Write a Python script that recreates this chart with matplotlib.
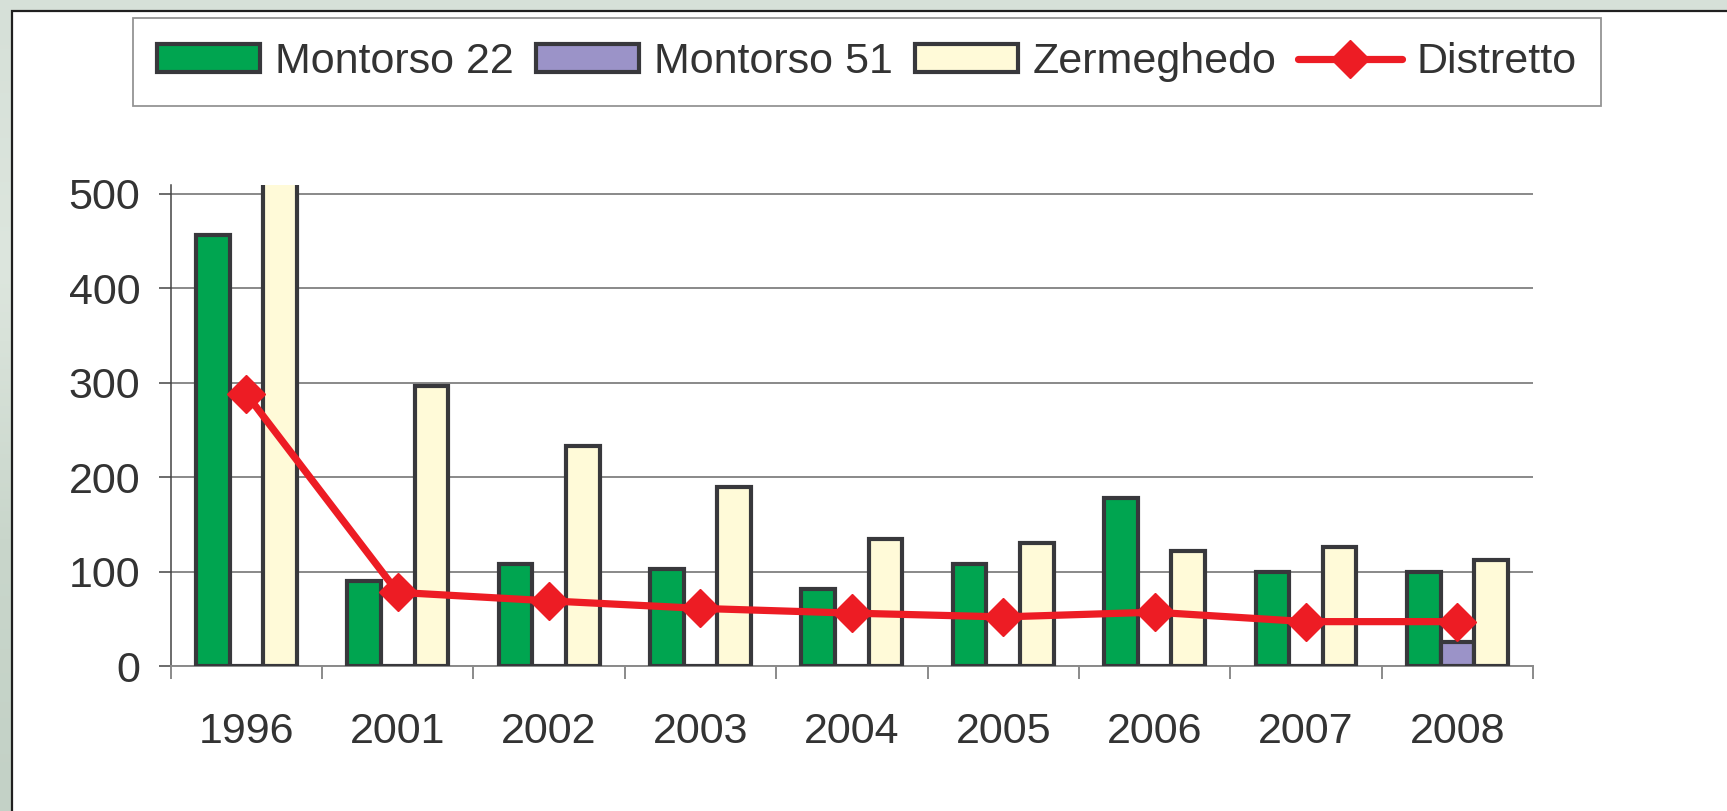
import numpy as np
import matplotlib
matplotlib.use("Agg")
import matplotlib.pyplot as plt
from matplotlib.patches import Rectangle
from matplotlib.ticker import FixedLocator

# ---------------- DATA ----------------
years = ["1996", "2001", "2002", "2003", "2004", "2005", "2006", "2007", "2008"]
montorso22 = [457, 90, 108, 103, 82, 108, 178, 100, 100]
montorso51 = [0, 0, 0, 0, 0, 0, 0, 0, 25]
# 1996 Zermeghedo runs off the top of the plot (clipped), value only needs to exceed the axis
zermeghedo = [600, 297, 233, 190, 134, 130, 122, 126, 112]
distretto = [288, 78, 69, 61, 56, 52, 57, 47, 47]

# ---------------- STYLE ----------------
plt.rcParams["font.family"] = ["Liberation Sans Narrow", "Liberation Sans", "DejaVu Sans"]
text_col = "#333333"
edge_col = "#38383c"
fs = 31

fig = plt.figure(figsize=(17.27, 8.11), dpi=100)

# background strip (greenish texture) + white panel
bg = fig.add_axes([0, 0, 1, 1], zorder=-10)
grad = np.linspace(0, 1, 200)[:, None]
bg.imshow(grad, aspect="auto", extent=[0, 1, 0, 1], origin="lower",
          cmap=matplotlib.colors.LinearSegmentedColormap.from_list(
              "bgc", ["#c3d1c6", "#c9d6cb", "#dde6de", "#d6e0d8"]))
bg.set_xlim(0, 1)
bg.set_ylim(0, 1)
bg.axis("off")
W, H = 1727, 811
bg.add_patch(Rectangle((12 / W, -0.1), 1.2, 1 - 11 / H + 0.1,
                       facecolor="white", edgecolor="#202020", lw=1.6,
                       transform=bg.transAxes))

ax = fig.add_axes([170.7 / W, 1 - 666 / H, (1533 - 170.7) / W, (666 - 185) / H])
x = np.arange(len(years))
w = 0.222

b1 = ax.bar(x - w, montorso22, w, color="#00a550", edgecolor=edge_col, lw=3.0,
            label="Montorso 22", zorder=3)
b2 = ax.bar(x, montorso51, w, color="#9b93c8", edgecolor=edge_col, lw=3.0,
            label="Montorso 51", zorder=3)
b3 = ax.bar(x + w, zermeghedo, w, color="#fffad8", edgecolor=edge_col, lw=3.0,
            label="Zermeghedo", zorder=3)
l1, = ax.plot(x, distretto, color="#ed1c24", lw=5.2, marker="D", markersize=19,
              solid_capstyle="round", solid_joinstyle="round",
              label="Distretto", zorder=5)

ax.set_xlim(-0.5, len(years) - 0.5)
ax.set_ylim(0, 509.5)
ax.set_yticks([0, 100, 200, 300, 400, 500])
ax.set_xticks(x)
ax.set_xticklabels(years)
ax.xaxis.set_minor_locator(FixedLocator(np.arange(-0.5, len(years), 1.0)))

ax.grid(axis="y", color="#6a6a6a", lw=1.1, zorder=0)
ax.set_axisbelow(True)
for s in ["top", "right"]:
    ax.spines[s].set_visible(False)
ax.spines["left"].set_color("#444444")
ax.spines["left"].set_linewidth(1.1)
ax.spines["bottom"].set_color("#8a8a8a")
ax.spines["bottom"].set_linewidth(1.4)

ax.tick_params(axis="y", length=9, width=1.1, color="#444444", pad=13,
               labelsize=fs, labelcolor=text_col)
ax.tick_params(axis="x", which="major", length=0, pad=33,
               labelsize=fs, labelcolor=text_col)
ax.tick_params(axis="x", which="minor", length=9, width=1.4, color="#8a8a8a")

leg = fig.legend([b1, b2, b3, l1],
                 ["Montorso 22", "Montorso 51", "Zermeghedo", "Distretto"],
                 loc="center", bbox_to_anchor=(0.502, 0.9235), ncol=4,
                 fontsize=fs, frameon=True, fancybox=False,
                 handlelength=2.4, handleheight=0.6, handletextpad=0.35,
                 columnspacing=0.5, borderpad=0.55, borderaxespad=0)
leg.get_frame().set_edgecolor("#7a7a7a")
leg.get_frame().set_linewidth(1.3)
for t in leg.get_texts():
    t.set_color(text_col)

fig.savefig("out.png", dpi=100)
